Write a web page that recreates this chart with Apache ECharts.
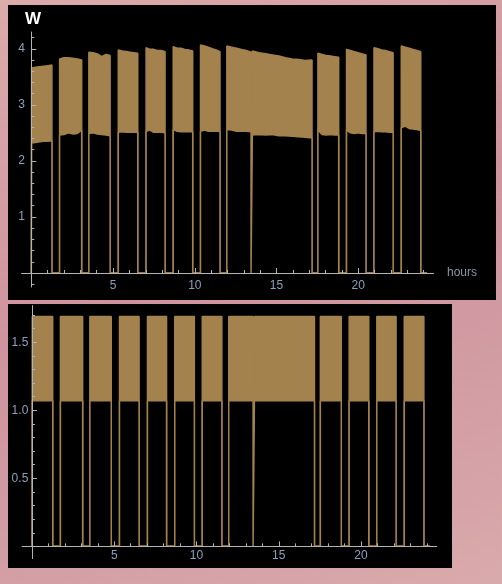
<!DOCTYPE html>
<html>
<head>
<meta charset="utf-8">
<script src="https://cdn.jsdelivr.net/npm/echarts@6/dist/echarts.min.js"></script>
<style>
  html, body { margin: 0; padding: 0; }
  body {
    width: 502px; height: 584px; overflow: hidden;
    background: linear-gradient(160deg, #dcabab 0%, #cf939d 45%, #d29ca3 70%, #d9aaac 100%);
  }
  #main { width: 502px; height: 584px; }
</style>
</head>
<body>
<div id="main"></div>
<script>
// on-periods (hours)
var segStart = [0.02, 1.73, 3.52, 5.32, 7.02, 8.68, 10.35, 11.96, 13.52, 17.53, 19.28, 20.96, 22.63];
var segEnd   = [1.26, 3.08, 4.82, 6.51, 8.18, 9.87, 11.54, 13.44, 17.17, 18.80, 20.47, 22.13, 23.82];

// top panel: upper / lower envelope of the signal (W), samples spread over each on-period
var topHigh = [
  [3.66, 3.67, 3.68, 3.69, 3.70, 3.71],
  [3.82, 3.84, 3.84, 3.83, 3.82, 3.80],
  [3.94, 3.93, 3.91, 3.86, 3.90, 3.88],
  [3.98, 3.96, 3.95, 3.94, 3.93, 3.92],
  [4.02, 3.99, 3.99, 3.97, 3.97, 3.95],
  [4.04, 4.01, 4.01, 3.99, 3.98, 3.96],
  [4.07, 4.05, 4.03, 4.00, 3.98, 3.95],
  [4.05, 4.03, 4.01, 3.99, 3.97, 3.94],
  [3.96, 3.93, 3.91, 3.89, 3.87, 3.84, 3.82, 3.81, 3.79, 3.80],
  [3.92, 3.90, 3.88, 3.87, 3.86, 3.85],
  [3.99, 3.97, 3.95, 3.93, 3.91, 3.89],
  [4.02, 4.00, 3.98, 3.97, 3.95, 3.93],
  [4.05, 4.03, 4.01, 3.99, 3.97, 3.95]
];
var topLow = [
  [2.32, 2.33, 2.34, 2.35, 2.35, 2.36],
  [2.46, 2.47, 2.50, 2.48, 2.49, 2.55],
  [2.49, 2.50, 2.48, 2.47, 2.46, 2.45],
  [2.51, 2.52, 2.51, 2.51, 2.51, 2.51],
  [2.53, 2.55, 2.51, 2.51, 2.51, 2.50],
  [2.56, 2.53, 2.52, 2.52, 2.52, 2.52],
  [2.53, 2.55, 2.53, 2.53, 2.53, 2.53],
  [2.56, 2.55, 2.53, 2.53, 2.53, 2.52],
  [2.46, 2.47, 2.46, 2.47, 2.45, 2.45, 2.44, 2.43, 2.42, 2.41],
  [2.55, 2.47, 2.46, 2.47, 2.46, 2.46],
  [2.55, 2.50, 2.49, 2.50, 2.49, 2.49],
  [2.52, 2.53, 2.52, 2.52, 2.51, 2.51],
  [2.59, 2.62, 2.58, 2.57, 2.56, 2.54]
];

// bottom panel: flat levels per on-period
var botHigh = [1.69, 1.69, 1.69, 1.69, 1.69, 1.69, 1.69, 1.69, 1.69, 1.69, 1.69, 1.69, 1.69];
var botLow  = [1.07, 1.07, 1.07, 1.07, 1.07, 1.07, 1.07, 1.07, 1.07, 1.07, 1.07, 1.07, 1.07];
var endHour = 24.2;

// ticks
var xMajor = [5, 10, 15, 20];
var xMinor = [1, 2, 3, 4, 6, 7, 8, 9, 11, 12, 13, 14, 16, 17, 18, 19, 21, 22, 23, 24];
var yMajorTop = [1, 2, 3, 4];
var yMinorTop = [-0.2, 0.2, 0.4, 0.6, 0.8, 1.2, 1.4, 1.6, 1.8, 2.2, 2.4, 2.6, 2.8, 3.2, 3.4, 3.6, 3.8, 4.2];
var yMajorBot = [0.5, 1.0, 1.5];
var yMinorBot = [0.1, 0.2, 0.3, 0.4, 0.6, 0.7, 0.8, 0.9, 1.1, 1.2, 1.3, 1.4, 1.6, 1.7];

var tan = '#a4824e';
var axisCol = '#b4b4b4';
var labelCol = '#8ba0ba';

// build the trace: zero between on-periods, envelope during them
function trace(levels) {
  var pts = [[0, 0]];
  for (var i = 0; i < segStart.length; i++) {
    var lv = Array.isArray(levels[i]) ? levels[i] : [levels[i], levels[i]];
    var n = lv.length;
    pts.push([segStart[i], 0]);
    for (var k = 0; k < n; k++) {
      pts.push([segStart[i] + (segEnd[i] - segStart[i]) * k / (n - 1), lv[k]]);
    }
    pts.push([segEnd[i], 0]);
  }
  pts.push([endHour, 0]);
  return pts;
}

// labels sit at the grid edge, so margins pull them in to the zero lines
function xAxes(grid, minor, margin) {
  return {
    type: 'value', gridIndex: grid, position: 'bottom', min: -0.6, max: 24.6, z: 5,
    axisLine: { show: !minor, onZero: true, lineStyle: { color: axisCol, width: 1 } },
    axisTick: { show: true, inside: true, length: minor ? 3 : 5, customValues: minor ? xMinor : xMajor,
      lineStyle: { color: axisCol } },
    axisLabel: { show: !minor, customValues: xMajor, color: labelCol, fontSize: 12,
      fontFamily: 'Liberation Sans, Arial', margin: margin },
    splitLine: { show: false }
  };
}
function yAxes(grid, minor, lo, hi, major, minorVals, fmt, margin) {
  return {
    type: 'value', gridIndex: grid, position: 'left', min: lo, max: hi, z: 5,
    axisLine: { show: !minor, onZero: true, lineStyle: { color: axisCol, width: 1 } },
    axisTick: { show: true, inside: true, length: minor ? 3 : 5, customValues: minor ? minorVals : major,
      lineStyle: { color: axisCol } },
    axisLabel: { show: !minor, customValues: major, color: labelCol, fontSize: 12,
      fontFamily: 'Liberation Sans, Arial', margin: margin, formatter: fmt },
    splitLine: { show: false }
  };
}

function band(xi, yi, data, isLow) {
  return {
    type: 'line', xAxisIndex: xi, yAxisIndex: yi, data: data,
    showSymbol: false, symbol: 'none', smooth: false, sampling: null,
    lineStyle: { color: tan, width: 1.5 },
    areaStyle: { color: isLow ? '#000000' : tan, opacity: 1 },
    z: isLow ? 3 : 2, silent: true
  };
}

var chart = echarts.init(document.getElementById('main'), null, { renderer: 'canvas' });
chart.setOption({
  animation: false,
  backgroundColor: 'transparent',
  graphic: [
    { type: 'rect', shape: { x: 8, y: 5, width: 488, height: 295 }, style: { fill: '#000' }, z: -10 },
    { type: 'rect', shape: { x: 8, y: 304, width: 444, height: 264 }, style: { fill: '#000' }, z: -10 },
    { type: 'text', x: 33, y: 19, style: { text: 'W', fill: '#ffffff', font: 'bold 17px Liberation Sans, Arial',
      align: 'center', verticalAlign: 'middle' }, z: 10 },
    { type: 'text', x: 447, y: 273, style: { text: 'hours', fill: '#8896a8', font: '12px Liberation Sans, Arial',
      align: 'left', verticalAlign: 'middle' }, z: 10 }
  ],
  grid: [
    { left: 21.5, top: 32, width: 412, height: 255 },
    { left: 22.1, top: 305.6, width: 414.6, height: 253 }
  ],
  xAxis: [xAxes(0, false, -7), xAxes(0, true, -7), xAxes(1, false, -8.5), xAxes(1, true, -8.5)],
  yAxis: [
    yAxes(0, false, -0.25, 4.3, yMajorTop, yMinorTop, function (v) { return String(v); }, -3.5),
    yAxes(0, true, -0.25, 4.3, yMajorTop, yMinorTop, null, -3.5),
    yAxes(1, false, -0.09, 1.77, yMajorBot, yMinorBot, function (v) { return v.toFixed(1); }, -6.2),
    yAxes(1, true, -0.09, 1.77, yMajorBot, yMinorBot, null, -6.2)
  ],
  series: [
    band(0, 0, trace(topHigh), false),
    band(0, 0, trace(topLow), true),
    band(2, 2, trace(botHigh), false),
    band(2, 2, trace(botLow), true)
  ]
});
</script>
</body>
</html>
